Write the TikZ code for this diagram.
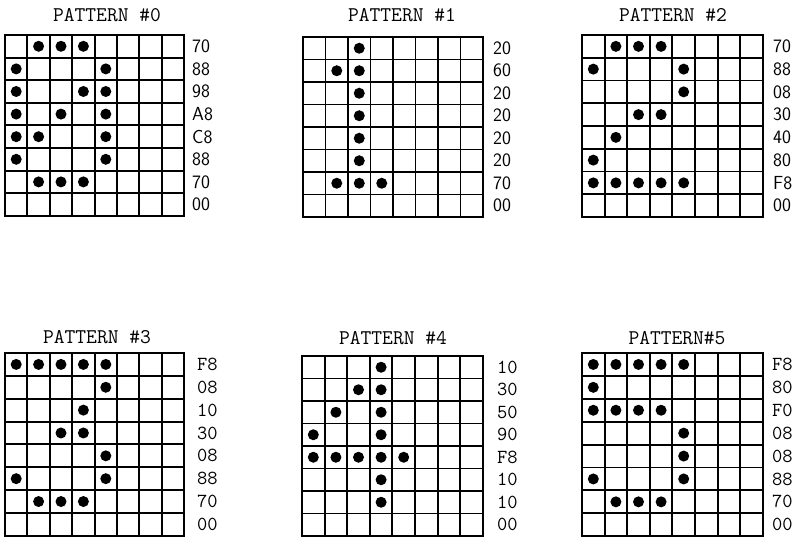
\documentclass[tikz,border=0pt]{standalone}
\usepackage{fontspec}
\tikzset{
  gridline/.style={line width=1.9bp, line cap=rect},
  ttl/.style={font=\ttfamily\fontsize{21}{21}\selectfont, inner sep=0pt},
  hexlab/.style={font=\ttfamily\fontsize{20}{20}\selectfont, anchor=west, inner sep=0pt},
  hexlabsans/.style={font=\sffamily\fontsize{19}{19}\selectfont, anchor=west, inner sep=0pt},
}
% #1 label style, #2 name, #3 x, #4 y, #5 cell w, #6 cell h, #7 label x offset, #8 rows label/{cols}
\newcommand\patgrid[8]{%
  \begin{scope}[shift={(#3,#4)}]
    \foreach \i in {0,...,8}{
      \draw[gridline] (\i*#5,0) -- (\i*#5,8*#6);
      \draw[gridline] (0,\i*#6) -- (8*#5,\i*#6);
    }
    \foreach \lab/\cols [count=\r from 0] in {#8}{
      \node[#1] (#2-l\r) at (#7,{(\r+0.5)*#6}) {\lab};
      \foreach \c in \cols {
        \fill ({(\c+0.5)*#5},{(\r+0.5)*#6}) circle[radius=5.5bp];
      }
    }
    \node[#1] (#2-l7) at (#7,{7.5*#6}) {00};
  \end{scope}
}
\begin{document}
\begin{tikzpicture}[x=1bp,y=-1bp]
\useasboundingbox (0,0) rectangle (802,537);
\node[ttl] (t0) at (107,15) {PATTERN \#0};
\node[ttl] (t1) at (402,15) {PATTERN \#1};
\node[ttl] (t2) at (673,15) {PATTERN \#2};
\node[ttl] (t3) at (97,337) {PATTERN \#3};
\node[ttl] (t4) at (393,338) {PATTERN \#4};
\node[ttl] (t5) at (677,338) {PATTERN\#5};
\patgrid{hexlabsans}{g0}{5}{35}{22.4}{22.6}{187}{70/{1,2,3},88/{0,4},98/{0,3,4},A8/{0,2,4},C8/{0,1,4},88/{0,4},70/{1,2,3}}
\patgrid{hexlabsans}{g1}{303}{37}{22.5}{22.5}{190}{20/{2},60/{1,2},20/{2},20/{2},20/{2},20/{2},70/{1,2,3}}
\patgrid{hexlabsans}{g2}{582}{35}{22.6}{22.75}{191}{70/{1,2,3},88/{0,4},08/{4},30/{2,3},40/{1},80/{0},F8/{0,1,2,3,4}}
\patgrid{hexlab}{g3}{5}{353}{22.4}{22.85}{192}{F8/{0,1,2,3,4},08/{4},10/{3},30/{2,3},08/{4},88/{0,4},70/{1,2,3}}
\patgrid{hexlab}{g4}{302}{356}{22.6}{22.5}{195}{10/{3},30/{2,3},50/{1,3},90/{0,3},F8/{0,1,2,3,4},10/{3},10/{3}}
\patgrid{hexlab}{g5}{582}{353}{22.6}{22.9}{190}{F8/{0,1,2,3,4},80/{0},F0/{0,1,2,3},08/{4},08/{4},88/{0,4},70/{1,2,3}}
\end{tikzpicture}
\end{document}
